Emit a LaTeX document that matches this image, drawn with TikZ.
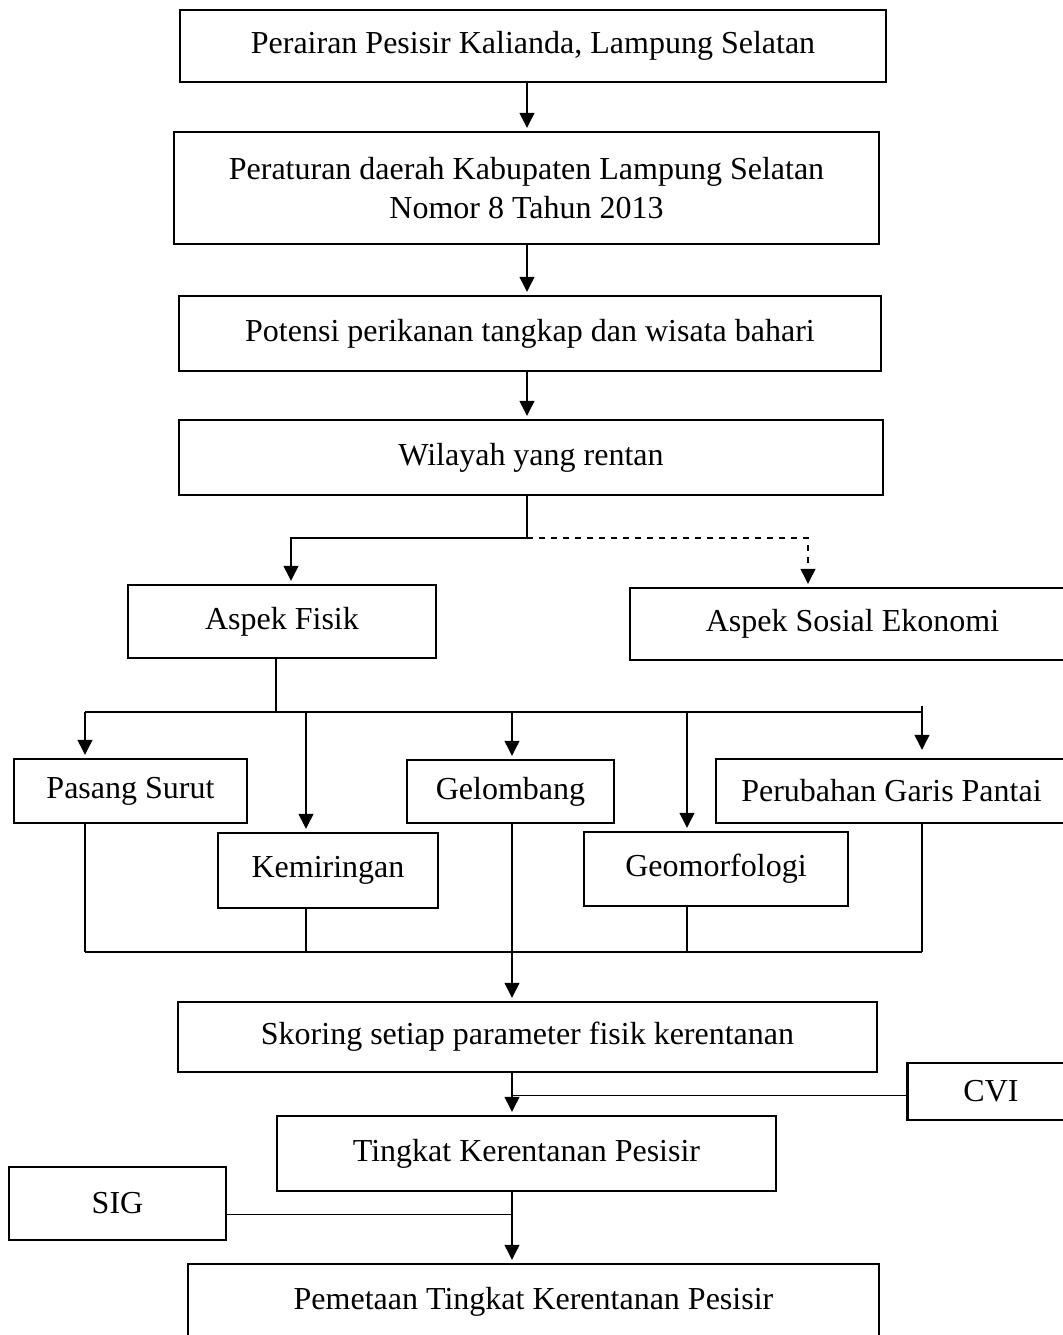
\documentclass[tikz,border=0pt]{standalone}
\usepackage{fontspec}
\setmainfont{Liberation Serif}
\usetikzlibrary{arrows.meta}

\begin{document}
\begin{tikzpicture}[x=0.5pt,y=-0.5pt,line width=0.6pt,
                    box/.style={draw,line width=1.2pt,inner sep=0pt,align=center,
                                font=\fontsize{16}{19.5}\selectfont},
                    arr/.style={-{Triangle[length=7.5pt,width=7.5pt]}}]
  \useasboundingbox (0,0) rectangle (1063,1335);
  \clip (0,0) rectangle (1063,1335);

  % main column
  \node[box,minimum width=353pt,minimum height=36pt] (pesisir) at (533,46)
    {Perairan Pesisir Kalianda, Lampung Selatan};
  \node[box,minimum width=352.5pt,minimum height=56pt] (perda) at (526.5,188)
    {Peraturan daerah Kabupaten Lampung Selatan\\Nomor 8 Tahun 2013};
  \node[box,minimum width=351pt,minimum height=37.5pt] (potensi) at (530,333.5)
    {Potensi perikanan tangkap dan wisata bahari};
  \node[box,minimum width=352pt,minimum height=37.5pt] (wilayah) at (531,457.5)
    {Wilayah yang rentan};

  % two aspects
  \node[box,minimum width=154pt,minimum height=36.5pt] (fisik) at (282,621.5)
    {Aspek Fisik};
  \node[box,minimum width=222.5pt,minimum height=36pt] (sosial) at (852.5,624)
    {Aspek Sosial Ekonomi};

  % physical parameters
  \node[box,minimum width=116.5pt,minimum height=32pt] (pasang) at (130.5,791)
    {Pasang Surut};
  \node[box,minimum width=110pt,minimum height=37.5pt] (miring) at (328,870.5)
    {Kemiringan};
  \node[box,minimum width=103.5pt,minimum height=31.5pt] (gelombang) at (510.5,791.5)
    {Gelombang};
  \node[box,minimum width=132pt,minimum height=37pt] (geomorf) at (716,869)
    {Geomorfologi};
  \node[box,minimum width=175.5pt,minimum height=32pt] (garis) at (891.5,791)
    {Perubahan Garis Pantai};

  % scoring and mapping
  \node[box,minimum width=349.5pt,minimum height=35pt] (skoring) at (527.5,1037)
    {Skoring setiap parameter fisik kerentanan};
  \node[box,minimum width=83.5pt,minimum height=28.5pt] (cvi) at (991,1091.5)
    {CVI};
  \node[box,minimum width=249.5pt,minimum height=37.5pt] (tingkat) at (526.5,1153.5)
    {Tingkat Kerentanan Pesisir};
  \node[box,minimum width=108.5pt,minimum height=36.5pt] (sig) at (117.5,1203.5)
    {SIG};
  \node[box,minimum width=345.5pt,minimum height=38pt] (pemetaan) at (533.5,1302)
    {Pemetaan Tingkat Kerentanan Pesisir};

  \coordinate (spine) at (527,0);
  \coordinate (split) at (527,538);
  \coordinate (join) at (512,952);
  \foreach \i/\x in {1/85,2/306,3/512,4/687,5/922}
    \coordinate (d\i) at (\x,712);

  \draw[arr] (pesisir.south -| spine) -- ([yshift=1.5pt]perda.north -| spine);
  \draw[arr] (perda.south -| spine) -- ([yshift=1.5pt]potensi.north -| spine);
  \draw[arr] (potensi.south -| spine) -- ([yshift=1.5pt]wilayah.north -| spine);
  \draw (wilayah.south -| spine) -- (split);
  \draw[arr] (split) -| ([xshift=4.5pt,yshift=1.5pt]fisik.north);
  \draw[arr,dashed] (split) -| ([xshift=-22.25pt,yshift=1.5pt]sosial.north);

  \draw ([xshift=-3pt]fisik.south) -- ([xshift=-3pt]fisik.south |- d1);
  \draw (d1) -- (d5);
  \foreach \i/\n in {1/pasang,2/miring,3/gelombang,4/geomorf}
    \draw[arr] (d\i) -- ([yshift=1.5pt]d\i |- \n.north);
  \draw[arr] ([yshift=3pt]d5) -- ([yshift=4pt]d5 |- garis.north);
  \foreach \i/\n in {1/pasang,2/miring,4/geomorf,5/garis}
    \draw (d\i |- \n.south) -- (d\i |- join);
  \draw (d1 |- join) -- (d5 |- join);
  \draw[arr] (d3 |- gelombang.south) -- ([yshift=1.5pt]d3 |- skoring.north);

  \draw[arr] (d3 |- skoring.south) -- ([yshift=1.5pt]d3 |- tingkat.north);
  \draw ([yshift=-2pt]cvi.west) -- ([yshift=-2pt]cvi.west -| d3);
  \draw[arr] (d3 |- tingkat.south) -- ([yshift=1.5pt]d3 |- pemetaan.north);
  \draw ([yshift=-5.5pt]sig.east) -- ([yshift=-5.5pt]sig.east -| d3);
\end{tikzpicture}
\end{document}
